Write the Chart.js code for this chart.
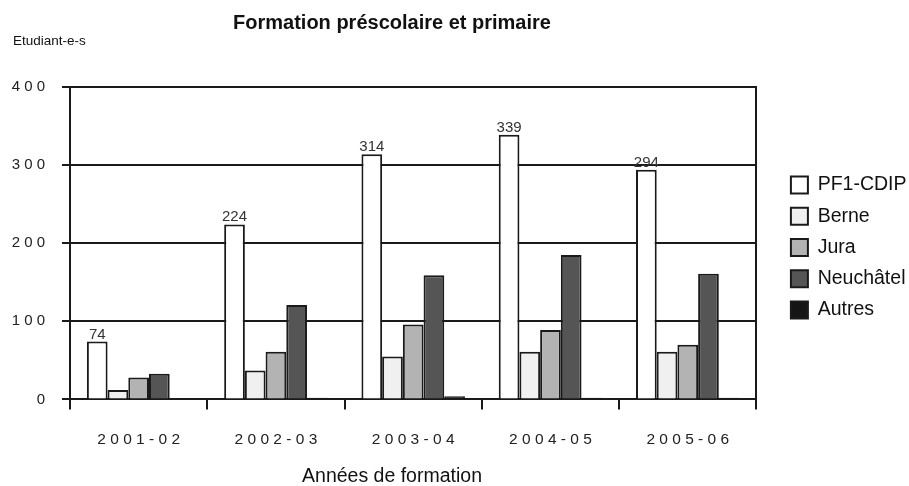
<!DOCTYPE html>
<html>
<head>
<meta charset="utf-8">
<script src="https://cdn.jsdelivr.net/npm/chart.js@4.4.1/dist/chart.umd.min.js"></script>
<style>
  html, body { margin: 0; padding: 0; background: #fff; }
  #wrap { width: 909px; height: 486px; position: relative; }
</style>
</head>
<body>
<div id="wrap"><canvas id="c" width="909" height="486"></canvas></div>
<script>
const categories = ["2 0 0 1 - 0 2", "2 0 0 2 - 0 3", "2 0 0 3 - 0 4", "2 0 0 4 - 0 5", "2 0 0 5 - 0 6"];
const seriesNames = ["PF1-CDIP", "Berne", "Jura", "Neuchâtel", "Autres"];
const pf1 = [74, 224, 314, 339, 294];
const berne = [12, 37, 55, 61, 61];
const jura = [28, 61, 96, 89, 70];
const neuchatel = [33, 121, 159, 185, 161];
const autres = [0, 2, 4, 2, 2];
const yTicks = [0, 100, 200, 300, 400];

const chartTitle = "Formation préscolaire et primaire";
const yAxisTitle = "Etudiant-e-s";
const xAxisTitle = "Années de formation";

const fills = ["#ffffff", "#f0f0f0", "#b3b3b3", "#555555", "#151515"];
const FONT = "'Liberation Sans', Arial, sans-serif";

const seriesValues = [pf1, berne, jura, neuchatel, autres];

const extraText = {
  id: 'extraText',
  afterDraw(chart) {
    const ctx = chart.ctx;
    ctx.save();
    ctx.fillStyle = '#111';
    ctx.font = "bold 20px " + FONT;
    ctx.textAlign = 'center';
    ctx.textBaseline = 'middle';
    ctx.fillText(chartTitle, 392, 23);
    ctx.font = "19.5px " + FONT;
    ctx.fillText(xAxisTitle, 392, 477);
    ctx.font = "13.5px " + FONT;
    ctx.textAlign = 'left';
    ctx.fillText(yAxisTitle, 13, 41);
    // value labels on first series
    const meta = chart.getDatasetMeta(0);
    ctx.font = "15px " + FONT;
    ctx.fillStyle = '#333';
    ctx.textAlign = 'center';
    ctx.textBaseline = 'alphabetic';
    meta.data.forEach((bar, i) => {
      ctx.fillText(String(pf1[i]), bar.x, bar.y - 3);
    });
    ctx.restore();
  }
};

new Chart(document.getElementById('c'), {
  type: 'bar',
  data: {
    labels: categories,
    datasets: seriesNames.map((n, i) => ({
      label: n,
      data: seriesValues[i],
      backgroundColor: fills[i],
      borderColor: '#1a1a1a',
      borderWidth: 2,
      borderSkipped: 'start',
      categoryPercentage: 0.754,
      barPercentage: 1.0,
      yAxisID: 'y'
    }))
  },
  options: {
    responsive: false,
    animation: false,
    devicePixelRatio: 1,
    layout: { padding: { top: 87, left: 11.6, right: -7.5, bottom: 38 } },
    plugins: {
      legend: {
        position: 'right',
        align: 'start',
        title: { display: true, text: '', font: { family: FONT, size: 12, lineHeight: 1.2 }, padding: { top: 62, bottom: 0 } },
        labels: {
          boxWidth: 17, boxHeight: 17, padding: 11.75,
          color: '#111',
          font: { family: FONT, size: 19.5 }
        }
      },
      tooltip: { enabled: false },
      title: { display: false }
    },
    scales: {
      x: {
        grid: { display: true, drawOnChartArea: false, drawTicks: true, tickLength: 10, color: '#1a1a1a', lineWidth: 2, offset: true },
        border: { display: true, color: '#1a1a1a', width: 2 },
        ticks: { color: '#222', font: { family: FONT, size: 15.5 }, padding: 21, maxRotation: 0 },
        title: { display: false },
        afterFit: (scale) => { scale.height = 48.6; }
      },
      y: {
        min: 0, max: 400,
        afterBuildTicks: (scale) => { scale.ticks = yTicks.map(v => ({ value: v })); },
        grid: { color: '#1a1a1a', lineWidth: 2, tickLength: 8, drawTicks: true },
        border: { display: true, color: '#1a1a1a', width: 2 },
        ticks: {
          color: '#222', font: { family: FONT, size: 15 }, padding: 17,
          callback: (v) => String(v).split('').join(' ')
        },
        afterFit: (scale) => { scale.width = 58.4; }
      },
      y2: {
        position: 'right',
        display: true,
        grid: { display: false, drawOnChartArea: false },
        border: { display: true, color: '#1a1a1a', width: 2 },
        ticks: { display: false },
        afterFit: (scale) => { scale.width = 22.75; }
      }
    }
  },
  plugins: [extraText]
});
</script>
</body>
</html>
